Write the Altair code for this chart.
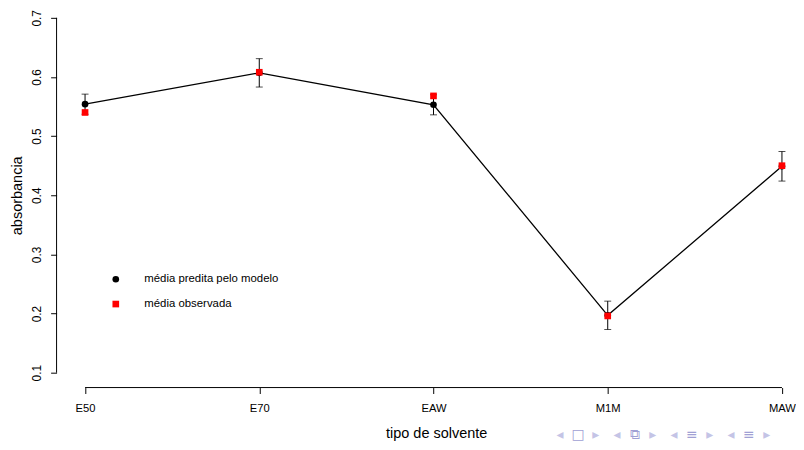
import altair as alt
import pandas as pd

# ---- data ----
categories = ["E50", "E70", "EAW", "M1M", "MAW"]
predicted = [0.554, 0.607, 0.553, 0.197, 0.449]
std_error = [0.017, 0.024, 0.017, 0.024, 0.025]
observed = [0.540, 0.608, 0.568, 0.196, 0.450]
y_ticks = [0.1, 0.2, 0.3, 0.4, 0.5, 0.6, 0.7]
series_names = ["média predita pelo modelo", "média observada"]
series_colors = ["black", "#ff0000"]
series_shapes = ["circle", "square"]
nav_icons = ["□", "⧉", "≡", "≡"]

positions = list(range(1, len(categories) + 1))

df = pd.DataFrame({
    "pos": positions,
    "cat": categories,
    "pred": predicted,
    "lo": [p - s for p, s in zip(predicted, std_error)],
    "hi": [p + s for p, s in zip(predicted, std_error)],
})

long_df = pd.DataFrame({
    "pos": positions * 2,
    "value": predicted + observed,
    "serie": [series_names[0]] * len(positions) + [series_names[1]] * len(positions),
})

X_DOMAIN = [0.8365, 5.0522]
Y_DOMAIN = [0.0749, 0.7134]
W, H_PLOT = 741, 381
FONT = "Liberation Sans"

label_array = "[" + ",".join("'%s'" % c for c in categories) + "]"

x_axis = alt.Axis(
    values=positions, labelExpr=label_array + "[datum.value - 1]",
    domain=False, grid=False, tickSize=6, tickColor="black", tickWidth=1,
    labelPadding=9, labelFont=FONT, labelFontSize=11.3, labelColor="black",
    title="tipo de solvente", titleFont=FONT, titleFontSize=14.6,
    titleFontWeight="normal", titleColor="black",
    titleX=383, titleY=50, titleBaseline="alphabetic", titleAnchor="start",
    titleAlign="center",
)
y_axis = alt.Axis(
    values=y_ticks, labelExpr="format(datum.value, '.1f')",
    domain=False, grid=False, tickSize=6, tickColor="black", tickWidth=1,
    labelPadding=7, labelAngle=270, labelAlign="center", labelBaseline="bottom",
    labelFont=FONT, labelFontSize=12, labelColor="black",
    title="absorbancia", titleFont=FONT, titleFontSize=14.6,
    titleFontWeight="normal", titleColor="black",
    titleAngle=270, titleX=-39, titleY=187, titleAlign="center",
    titleBaseline="middle", titleAnchor="start",
)

xs = alt.Scale(domain=X_DOMAIN, nice=False, zero=False)
ys = alt.Scale(domain=Y_DOMAIN, nice=False, zero=False)

base = alt.Chart(df)

line = base.mark_line(color="black", strokeWidth=1.3).encode(
    x=alt.X("pos:Q", scale=xs, axis=x_axis),
    y=alt.Y("pred:Q", scale=ys, axis=y_axis),
)

err = base.mark_rule(color="black", strokeWidth=1).encode(
    x=alt.X("pos:Q", scale=xs), y=alt.Y("lo:Q", scale=ys), y2="hi:Q"
)
cap_lo = base.mark_tick(color="black", thickness=1, size=7, orient="horizontal").encode(
    x=alt.X("pos:Q", scale=xs), y=alt.Y("lo:Q", scale=ys)
)
cap_hi = base.mark_tick(color="black", thickness=1, size=7, orient="horizontal").encode(
    x=alt.X("pos:Q", scale=xs), y=alt.Y("hi:Q", scale=ys)
)

legend = alt.Legend(
    orient="none", legendX=54, legendY=266, title=None, padding=0,
    labelFont=FONT, labelFontSize=11.5, labelColor="black", labelOffset=23,
    symbolSize=45, rowPadding=12, symbolStrokeWidth=0,
)

order_array = "[" + ",".join("'%s'" % s for s in series_names) + "]"
points = alt.Chart(long_df).mark_point(filled=True, opacity=1, size=45).encode(
    x=alt.X("pos:Q", scale=xs),
    y=alt.Y("value:Q", scale=ys),
    color=alt.Color("serie:N", scale=alt.Scale(domain=series_names, range=series_colors),
                    legend=legend, sort=series_names),
    shape=alt.Shape("serie:N", scale=alt.Scale(domain=series_names, range=series_shapes),
                    legend=legend, sort=series_names),
    order=alt.Order("ord:Q"),
).transform_calculate(ord="indexof(%s, datum.serie)" % order_array)

# axis lines drawn like R (only between first and last ticks)
yline_df = pd.DataFrame({"y1": [y_ticks[0]], "y2": [y_ticks[-1]]})
xline_df = pd.DataFrame({"x1": [positions[0]], "x2": [positions[-1]], "y": [Y_DOMAIN[0]]})

yline = alt.Chart(yline_df).mark_rule(color="black", strokeWidth=1).encode(
    x=alt.value(0), y=alt.Y("y1:Q", scale=ys), y2="y2:Q"
)
xline = alt.Chart(xline_df).mark_rule(color="black", strokeWidth=1).encode(
    x=alt.X("x1:Q", scale=xs), x2="x2:Q", y=alt.Y("y:Q", scale=ys)
)

# beamer navigation symbols (decoration at the bottom right of the slide)
nav_layers = []
for i, icon in enumerate(nav_icons):
    gx = 508 + 57.5 * i
    for dx, glyph, col, fs in [(0, "◂", "#c4c4e6", 14), (18, icon, "#a0a0d4", 14),
                               (36, "▸", "#c4c4e6", 14)]:
        nav_layers.append(
            alt.Chart(pd.DataFrame({"t": [glyph]})).mark_text(
                font="DejaVu Sans", fontSize=fs, color=col, align="center",
                baseline="middle"
            ).encode(x=alt.value(gx + dx), y=alt.value(429), text="t:N")
        )

chart = alt.layer(line, err, cap_lo, cap_hi, points, yline, xline, *nav_layers).properties(
    width=W, height=H_PLOT, background="white",
    autosize=alt.AutoSizeParams(type="none"),
    padding={"left": 49, "top": 0, "right": 5, "bottom": 53},
).configure_view(stroke=None)

chart.save("out.html", embed_options={"renderer": "svg", "actions": False})
